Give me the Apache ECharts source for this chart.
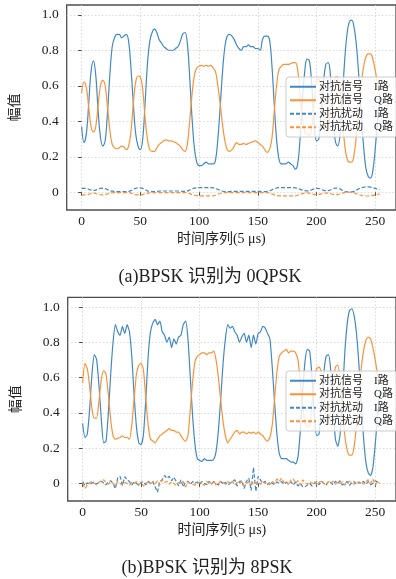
<!DOCTYPE html>
<html>
<head>
<meta charset="utf-8">
<script src="https://cdn.jsdelivr.net/npm/echarts@6/dist/echarts.min.js"></script>
<style>
  html, body { margin: 0; padding: 0; background: #fff; }
  #chart { width: 396px; height: 579px; }
</style>
</head>
<body>
<div id="chart"></div>
<script>
  // tick labels
  var xTicks = [0, 50, 100, 150, 200, 250];
  var yTicks = [0, 0.2, 0.4, 0.6, 0.8, 1.0];
  var seriesNames = ['对抗信号\u3000I路', '对抗信号\u3000Q路', '对抗扰动\u3000I路', '对抗扰动\u3000Q路'];
  var captions = ['(a)BPSK 识别为 0QPSK', '(b)BPSK 识别为 8PSK'];
  var stepT = 2; // time spacing of the samples below

  // (a) adversarial signal, I / Q
  var aSigI = [
    0.37,0.28,0.33,0.50,0.68,0.74,0.66,0.46,0.31,0.26,
    0.29,0.45,0.66,0.82,0.87,0.89,0.89,0.87,0.88,0.89,
    0.85,0.70,0.50,0.33,0.26,0.24,0.30,0.50,0.72,0.85,
    0.90,0.92,0.90,0.86,0.84,0.82,0.81,0.80,0.80,0.80,
    0.81,0.82,0.85,0.89,0.90,0.84,0.65,0.42,0.25,0.17,
    0.15,0.15,0.16,0.17,0.16,0.16,0.16,0.18,0.30,0.48,
    0.68,0.82,0.88,0.89,0.88,0.86,0.83,0.81,0.80,0.82,
    0.82,0.83,0.82,0.82,0.81,0.81,0.80,0.86,0.88,0.88,
    0.86,0.72,0.50,0.30,0.19,0.16,0.16,0.16,0.17,0.16,
    0.15,0.13,0.16,0.30,0.52,0.68,0.75,0.74,0.60,0.40,
    0.29,0.30,0.45,0.62,0.72,0.73,0.65,0.45,0.29,0.26,
    0.32,0.52,0.74,0.89,0.96,0.97,0.93,0.83,0.66,0.46,
    0.27,0.14,0.09,0.08,0.12,0.24,0.40,0.54
  ];
  var aSigQ = [
    0.56,0.62,0.59,0.48,0.37,0.34,0.37,0.49,0.60,0.63,
    0.60,0.48,0.35,0.27,0.25,0.245,0.25,0.26,0.255,0.24,
    0.26,0.34,0.50,0.62,0.655,0.65,0.58,0.42,0.30,0.24,
    0.23,0.23,0.25,0.27,0.28,0.29,0.295,0.29,0.29,0.285,
    0.28,0.27,0.26,0.24,0.23,0.27,0.40,0.55,0.66,0.70,
    0.71,0.715,0.71,0.715,0.71,0.715,0.70,0.68,0.60,0.50,
    0.38,0.29,0.24,0.23,0.24,0.26,0.28,0.27,0.27,0.275,
    0.27,0.275,0.28,0.285,0.29,0.28,0.27,0.26,0.24,0.225,
    0.24,0.30,0.45,0.60,0.69,0.71,0.72,0.72,0.72,0.725,
    0.73,0.73,0.69,0.55,0.42,0.34,0.33,0.32,0.36,0.50,
    0.63,0.64,0.55,0.42,0.35,0.36,0.46,0.58,0.645,0.65,
    0.58,0.42,0.27,0.19,0.17,0.17,0.21,0.32,0.47,0.60,
    0.70,0.76,0.78,0.78,0.75,0.69,0.61,0.54
  ];
  // (a) adversarial perturbation, I / Q
  var aPertI = [
    0.022,0.022,0.021,0.017,0.012,0.010,0.012,0.018,0.022,0.023,
    0.021,0.015,0.009,0.006,0.005,0.004,0.004,0.004,0.004,0.004,
    0.005,0.009,0.016,0.022,0.025,0.025,0.022,0.015,0.008,0.005,
    0.004,0.004,0.005,0.006,0.007,0.007,0.007,0.007,0.007,0.007,
    0.007,0.007,0.006,0.005,0.005,0.007,0.013,0.019,0.023,0.025,
    0.026,0.026,0.026,0.026,0.026,0.026,0.025,0.022,0.016,0.010,
    0.006,0.004,0.004,0.004,0.005,0.005,0.005,0.005,0.005,0.005,
    0.005,0.005,0.005,0.005,0.005,0.005,0.005,0.004,0.004,0.005,
    0.008,0.014,0.020,0.024,0.026,0.026,0.026,0.026,0.026,0.026,
    0.026,0.025,0.022,0.017,0.012,0.009,0.008,0.009,0.014,0.019,
    0.022,0.021,0.016,0.011,0.009,0.009,0.013,0.019,0.023,0.023,
    0.019,0.011,0.005,0.002,0.002,0.002,0.005,0.012,0.019,0.025,
    0.028,0.030,0.030,0.029,0.026,0.022,0.018,0.015
  ];
  var aPertQ = [
    -0.015,-0.015,-0.014,-0.011,-0.007,-0.005,-0.007,-0.011,-0.014,-0.015,
    -0.013,-0.009,-0.005,-0.003,-0.002,-0.002,-0.002,-0.002,-0.002,-0.002,
    -0.002,-0.005,-0.009,-0.013,-0.015,-0.015,-0.013,-0.009,-0.005,-0.003,
    -0.002,-0.002,-0.002,-0.002,-0.002,-0.002,-0.002,-0.002,-0.002,-0.002,
    -0.002,-0.002,-0.002,-0.002,-0.002,-0.004,-0.008,-0.013,-0.017,-0.019,
    -0.020,-0.020,-0.020,-0.020,-0.020,-0.020,-0.020,-0.017,-0.012,-0.007,
    -0.004,-0.002,-0.002,-0.002,-0.002,-0.002,-0.002,-0.002,-0.002,-0.002,
    -0.002,-0.002,-0.002,-0.002,-0.002,-0.002,-0.002,-0.002,-0.002,-0.002,
    -0.004,-0.009,-0.014,-0.018,-0.020,-0.020,-0.020,-0.020,-0.020,-0.020,
    -0.020,-0.020,-0.017,-0.012,-0.008,-0.005,-0.004,-0.005,-0.009,-0.012,
    -0.013,-0.012,-0.009,-0.006,-0.005,-0.005,-0.008,-0.012,-0.014,-0.013,
    -0.010,-0.005,-0.002,0.000,0.000,0.000,-0.003,-0.008,-0.013,-0.017,
    -0.020,-0.021,-0.021,-0.020,-0.018,-0.015,-0.012,-0.010
  ];

  // (b) adversarial signal, I / Q
  var bSigI = [
    0.34,0.26,0.28,0.42,0.62,0.73,0.70,0.55,0.36,0.23,
    0.24,0.40,0.62,0.80,0.90,0.86,0.84,0.89,0.85,0.90,
    0.86,0.72,0.50,0.32,0.23,0.22,0.28,0.48,0.72,0.86,
    0.91,0.93,0.90,0.92,0.86,0.84,0.80,0.83,0.77,0.82,
    0.79,0.83,0.84,0.90,0.92,0.82,0.60,0.38,0.22,0.14,
    0.13,0.125,0.14,0.13,0.13,0.13,0.135,0.18,0.30,0.48,
    0.68,0.82,0.90,0.88,0.89,0.86,0.84,0.80,0.83,0.85,
    0.80,0.84,0.77,0.84,0.79,0.85,0.86,0.89,0.88,0.85,
    0.82,0.66,0.46,0.28,0.17,0.14,0.14,0.14,0.13,0.12,
    0.12,0.11,0.15,0.30,0.52,0.69,0.76,0.75,0.60,0.38,
    0.27,0.28,0.44,0.62,0.72,0.73,0.64,0.43,0.25,0.21,
    0.28,0.50,0.74,0.90,0.98,0.99,0.95,0.85,0.68,0.46,
    0.26,0.12,0.06,0.045,0.09,0.22,0.38,0.52
  ];
  var bSigQ = [
    0.57,0.68,0.65,0.55,0.42,0.37,0.37,0.47,0.59,0.64,
    0.62,0.50,0.36,0.27,0.25,0.255,0.26,0.27,0.26,0.26,
    0.25,0.33,0.48,0.62,0.67,0.68,0.64,0.48,0.33,0.25,
    0.24,0.23,0.25,0.27,0.28,0.29,0.30,0.31,0.30,0.30,
    0.29,0.29,0.27,0.25,0.24,0.27,0.42,0.58,0.69,0.72,
    0.73,0.74,0.74,0.73,0.74,0.74,0.75,0.70,0.60,0.47,
    0.35,0.27,0.23,0.25,0.27,0.29,0.30,0.28,0.29,0.29,
    0.28,0.29,0.285,0.29,0.28,0.29,0.28,0.27,0.25,0.24,
    0.26,0.33,0.48,0.63,0.72,0.74,0.75,0.76,0.74,0.75,
    0.75,0.74,0.70,0.58,0.44,0.35,0.32,0.33,0.45,0.58,
    0.65,0.66,0.63,0.50,0.38,0.35,0.42,0.56,0.66,0.67,
    0.58,0.42,0.27,0.19,0.16,0.16,0.21,0.33,0.50,0.65,
    0.75,0.81,0.83,0.82,0.77,0.70,0.62,0.57
  ];
  // (b) adversarial perturbation, I / Q
  var bPertI = [
    0.010,-0.012,0.004,-0.006,0.002,0.008,-0.004,0.006,0.012,0.002,
    -0.008,0.010,0.015,0.000,-0.030,0.030,0.040,-0.012,0.038,0.020,
    0.010,-0.010,0.008,0.000,-0.012,0.006,0.010,-0.008,0.012,0.000,
    0.010,-0.020,-0.050,0.012,0.020,0.045,0.028,0.040,0.015,0.035,
    0.010,-0.015,0.020,-0.020,0.008,0.012,-0.006,0.010,0.000,0.008,
    -0.005,0.010,0.000,-0.008,0.012,-0.005,0.010,0.000,-0.010,0.012,
    -0.004,0.006,-0.010,0.000,0.010,0.020,-0.015,0.010,0.015,-0.030,
    0.012,0.030,-0.040,0.090,-0.045,0.040,0.018,0.000,0.012,-0.008,
    0.010,0.000,-0.006,0.008,0.000,0.010,-0.005,0.006,0.000,0.010,
    -0.010,0.008,-0.015,0.000,-0.018,-0.020,-0.010,0.000,-0.015,0.000,
    0.010,-0.008,0.012,0.000,-0.010,0.010,0.005,-0.008,0.012,0.000,
    0.015,-0.010,0.000,0.010,-0.012,0.005,0.010,-0.005,0.008,0.000,
    0.012,-0.005,0.010,-0.008,0.000,0.015,0.008,0.006
  ];
  var bPertQ = [
    0.000,-0.030,-0.010,0.005,0.010,0.000,-0.010,0.008,0.015,0.020,
    0.005,-0.005,0.010,0.000,-0.012,0.010,0.000,-0.008,0.005,0.000,
    -0.010,0.005,0.000,0.010,-0.008,0.005,-0.015,0.000,0.008,-0.005,
    0.010,0.000,0.015,-0.010,0.020,0.005,0.012,-0.005,0.010,0.000,
    -0.012,0.005,0.000,0.010,-0.020,0.008,0.000,-0.005,-0.010,0.000,
    0.008,0.000,-0.012,0.010,0.000,-0.008,0.015,-0.010,0.000,0.012,
    0.005,-0.005,0.010,0.000,0.012,-0.010,0.005,0.000,0.010,-0.015,
    0.000,0.010,-0.010,0.012,0.000,0.008,-0.005,0.010,0.000,0.005,
    -0.008,0.010,0.000,0.025,0.010,0.030,0.005,0.012,-0.010,0.020,
    0.025,0.000,0.015,-0.010,0.020,0.005,-0.005,0.010,0.000,0.012,
    -0.010,0.005,0.015,0.000,-0.008,0.010,0.000,0.012,-0.005,0.008,
    0.000,0.010,-0.010,0.005,0.012,0.000,-0.005,0.010,0.000,0.008,
    -0.005,0.010,0.020,0.000,0.025,-0.010,0.010,0.000
  ];

  var BLUE = '#4189c5';
  var ORANGE = '#fb9238';
  var LATIN = '"Liberation Serif", "Noto Sans CJK SC", serif';

  function pairs(arr) {
    return arr.map(function(v, i) { return [i * stepT, v]; });
  }

  function xAxisFor(idx) {
    return {
      type: 'value', gridIndex: idx, min: -12.75, max: 267.75,
      axisLine: { show: false },
      axisTick: { show: true, customValues: xTicks, length: 3.5, lineStyle: { color: '#4d4d4d', width: 1 } },
      axisLabel: { customValues: xTicks, fontSize: 13.5, color: '#222', margin: 5, fontFamily: LATIN },
      splitLine: { show: true, lineStyle: { type: [1.5, 2], color: '#cfcfcf', width: 0.8 } },
      name: '时间序列(5 μs)', nameLocation: 'middle', nameGap: 22,
      nameTextStyle: { fontSize: 14, color: '#222', fontFamily: LATIN, padding: [0, 20, 0, 0] }
    };
  }

  function yAxisFor(idx) {
    return {
      type: 'value', gridIndex: idx, min: -0.1, max: 1.055,
      axisLine: { show: false },
      axisTick: { show: true, customValues: yTicks, length: 3.5, lineStyle: { color: '#4d4d4d', width: 1 } },
      axisLabel: {
        customValues: yTicks, fontSize: 13.5, color: '#222', margin: 8, fontFamily: LATIN,
        formatter: function(v) { return v === 0 ? '0' : v.toFixed(1); }
      },
      splitLine: { show: true, lineStyle: { type: [1.5, 2], color: '#cfcfcf', width: 0.8 } },
      name: '幅值', nameLocation: 'middle', nameGap: 44,
      nameTextStyle: { fontSize: 14, color: '#222', fontFamily: LATIN }
    };
  }

  function seriesFor(idx, sigI, sigQ, pertI, pertQ, smooth) {
    var sets = [
      [sigI, BLUE, 'solid'], [sigQ, ORANGE, 'solid'],
      [pertI, BLUE, [4, 2]], [pertQ, ORANGE, [4, 2]]
    ];
    return sets.map(function(s, k) {
      return {
        name: seriesNames[k], type: 'line', xAxisIndex: idx, yAxisIndex: idx,
        data: pairs(s[0]), symbol: 'none', smooth: k < 2 ? smooth : (idx === 0 ? 0.4 : false),
        lineStyle: { color: s[1], width: 1.2, type: s[2] },
        itemStyle: { color: s[1] }, z: 3
      };
    });
  }

  function legendFor(top) {
    return {
      data: seriesNames, orient: 'vertical', left: 286, top: top,
      itemWidth: 26, itemHeight: 12, itemGap: 0, padding: [3, 4, 3, 3],
      itemStyle: { opacity: 0 },
      backgroundColor: 'rgba(255,255,255,0.8)', borderColor: '#cccccc', borderWidth: 1, borderRadius: 3,
      textStyle: { fontSize: 11, color: '#222', fontFamily: LATIN, lineHeight: 13.5, padding: [0, 0, 0, -2] },
      selectedMode: false
    };
  }

  var chart = echarts.init(document.getElementById('chart'), null, { renderer: 'canvas' });
  chart.setOption({
    animation: false,
    backgroundColor: '#fff',
    title: [
      { text: captions[0], left: 205, top: 263, textAlign: 'center',
        textStyle: { fontSize: 18, fontWeight: 'normal', color: '#222', fontFamily: LATIN } },
      { text: captions[1], left: 202, top: 554, textAlign: 'center',
        textStyle: { fontSize: 18, fontWeight: 'normal', color: '#222', fontFamily: LATIN } }
    ],
    grid: [
      { left: 66.7, top: 5, right: -3, height: 205, show: true, borderColor: '#4d4d4d', borderWidth: 1.3 },
      { left: 67.7, top: 297.3, right: -3, height: 203.7, show: true, borderColor: '#4d4d4d', borderWidth: 1.3 }
    ],
    legend: [legendFor(77), legendFor(371)],
    xAxis: [xAxisFor(0), xAxisFor(1)],
    yAxis: [yAxisFor(0), yAxisFor(1)],
    series: seriesFor(0, aSigI, aSigQ, aPertI, aPertQ, 0.4)
      .concat(seriesFor(1, bSigI, bSigQ, bPertI, bPertQ, 0.2))
  });
</script>
</body>
</html>
